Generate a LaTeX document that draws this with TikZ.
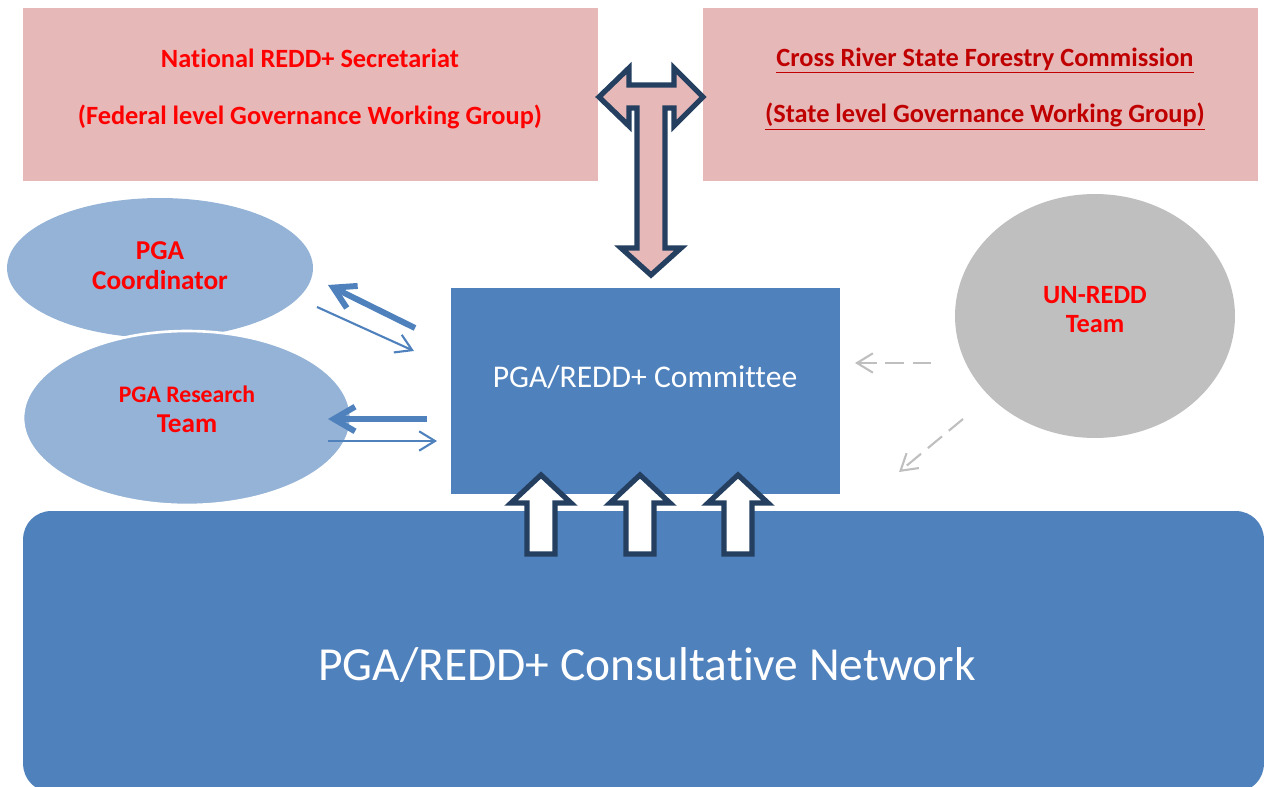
\documentclass[tikz,border=0pt]{standalone}
\usepackage{fontspec}
\setmainfont{Carlito}[Ligatures=NoCommon]
\usetikzlibrary{arrows.meta,shapes.geometric}
\definecolor{govpink}{HTML}{E6B9B8}
\definecolor{teamblue}{HTML}{95B3D7}
\definecolor{coreblue}{HTML}{4F81BD}
\definecolor{ungray}{HTML}{BFBFBF}
\definecolor{navyline}{HTML}{243F60}
\definecolor{statered}{HTML}{C00000}
\definecolor{titlered}{HTML}{FF0000}
\tikzset{
  govbox/.style={rectangle, fill=govpink, draw=none, minimum height=3.46cm, inner sep=0pt},
  govtext/.style={align=center, font=\bfseries\fontsize{15}{32}\selectfont, inner sep=0pt},
  team/.style={ellipse, fill=teamblue, inner sep=0pt},
  teamtext/.style={align=center, text=titlered, font=\bfseries\fontsize{15.5}{17}\selectfont, inner sep=0pt},
  corebox/.style={rectangle, fill=coreblue, draw=none, inner sep=0pt},
  whitetext/.style={text=white, inner sep=0pt},
  thickarr/.style={draw=coreblue, line width=3.4pt, -{Straight Barb[length=12pt,width=14pt]}},
  thinarr/.style={draw=coreblue, line width=1.2pt, -{Straight Barb[length=9pt,width=11pt]}},
  dasharr/.style={draw=ungray, line width=1.2pt, dash pattern=on 10.5pt off 5pt, -{Straight Barb[length=9pt,width=11pt]}},
  blockarrow/.style={draw=navyline, line width=3pt, line join=miter},
  pics/uparrow/.style={code={
    \draw[blockarrow, fill=white] (0,0) -- (30,28) -- (14,28) -- (14,79) -- (-14,79) -- (-14,28) -- (-30,28) -- cycle;
  }}
}
\begin{document}
\begin{tikzpicture}[x=0.02cm, y=-0.02cm]
  \path[use as bounding box] (0,0) rectangle (1264,787);
  \clip (0,0) rectangle (1264,787);

  % governance working groups
  \node[govbox, minimum width=11.5cm] (natl) at (310.5,94.5) {};
  \node[govbox, minimum width=11.1cm] (state) at (980.5,94.5) {};
  \node[govtext, text=titlered] (natltext) at (310,89)
    {National REDD+ Secretariat\\(Federal level Governance Working Group)};
  \node[govtext, text=statered] (statetext) at (985,89)
    {\underline{Cross River State Forestry Commission}\\\underline{(State level Governance Working Group)}};

  % consultative network
  \node[corebox, rounded corners=0.56cm, minimum width=24.82cm, minimum height=5.62cm] (network) at (643.5,651.5) {};
  \node[whitetext, font=\fontsize{27}{32}\selectfont] (networktext) at (647,665) {PGA/REDD+ Consultative Network};

  % committee
  \node[corebox, minimum width=7.78cm, minimum height=4.12cm] (committee) at (645.5,391) {};
  \node[whitetext, font=\fontsize{18}{22}\selectfont] (committeetext) at (645,377) {PGA/REDD+ Committee};

  % PGA teams
  \node[team, minimum width=6.12cm, minimum height=2.8cm] (coord) at (160,268) {};
  \node[teamtext] (coordtext) at (160,266) {PGA\\Coordinator};
  \node[team, draw=white, line width=1.5pt, minimum width=6.56cm, minimum height=3.48cm] (research) at (187,418) {};
  \node[teamtext] (researchtext) at (187,409)
    {{\fontsize{13.5}{17}\selectfont PGA Research}\\Team};

  % UN-REDD
  \node[ellipse, fill=ungray, inner sep=0pt, minimum width=5.6cm, minimum height=4.88cm] (unredd) at (1095,316) {};
  \node[teamtext, font=\bfseries\fontsize{15}{16.5}\selectfont] (unreddtext) at (1095,309.5) {UN-REDD\\Team};

  % links between the committee and the PGA teams
  \coordinate (k1) at (415,328); \coordinate (c1) at (328,285);
  \coordinate (c2) at (317,307); \coordinate (k2) at (414,351);
  \coordinate (k3) at (427,419); \coordinate (r1) at (328,419);
  \coordinate (r2) at (328,441); \coordinate (k4) at (437,441);
  \draw[thickarr] (k1) -- (c1);
  \draw[thinarr] (c2) -- (k2);
  \draw[thickarr] (k3) -- (r1);
  \draw[thinarr] (r2) -- (k4);

  % advisory links from UN-REDD
  \coordinate (u1) at (931,363); \coordinate (k5) at (855,363);
  \coordinate (u2) at (963,419); \coordinate (k6) at (899,472);
  \draw[dasharr] (u1) -- (k5);
  \draw[dasharr] (u2) -- (k6);

  % two-way link between government levels and the committee
  \draw[blockarrow, fill=govpink]
    (599,97) -- (629,68) -- (629,85) -- (674,85) -- (674,68) -- (703,97)
    -- (674,126) -- (674,108) -- (665,108) -- (665,248) -- (681,248)
    -- (651,275) -- (621,248) -- (637,248) -- (637,108) -- (629,108)
    -- (629,126) -- cycle;

  % inputs from the consultative network
  \pic at (541,475) {uparrow};
  \pic at (640,475) {uparrow};
  \pic at (738,475) {uparrow};
\end{tikzpicture}
\end{document}
